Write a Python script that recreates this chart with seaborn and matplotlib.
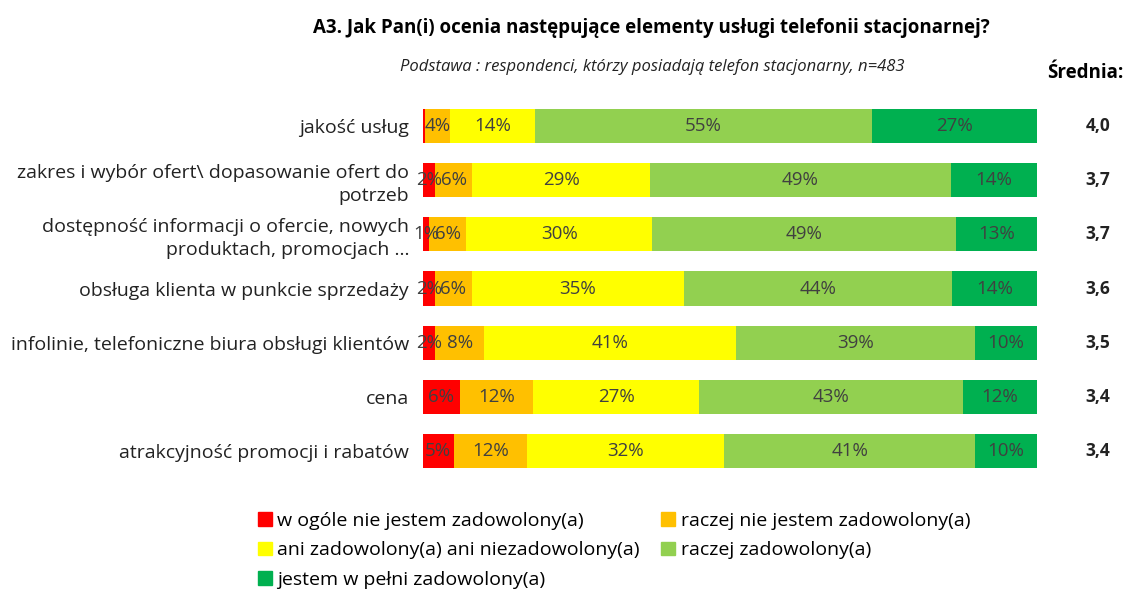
import matplotlib
matplotlib.use("Agg")
import matplotlib.pyplot as plt
import matplotlib.patches as mpatches
import seaborn as sns
import pandas as pd
import numpy as np

# dane z wykresu
kategorie = [
    "jakość usług",
    "zakres i wybór ofert\\ dopasowanie ofert do\npotrzeb",
    "dostępność informacji o ofercie, nowych\nproduktach, promocjach ...",
    "obsługa klienta w punkcie sprzedaży",
    "infolinie, telefoniczne biura obsługi klientów",
    "cena",
    "atrakcyjność promocji i rabatów",
]
odpowiedzi = [
    "w ogóle nie jestem zadowolony(a)",
    "raczej nie jestem zadowolony(a)",
    "ani zadowolony(a) ani niezadowolony(a)",
    "raczej zadowolony(a)",
    "jestem w pełni zadowolony(a)",
]
w_ogole_nie = [0.4, 2, 1, 2, 2, 6, 5]
raczej_nie = [4, 6, 6, 6, 8, 12, 12]
ani_ani = [14, 29, 30, 35, 41, 27, 32]
raczej_tak = [55, 49, 49, 44, 39, 43, 41]
w_pelni = [27, 14, 13, 14, 10, 12, 10]
srednia = ["4,0", "3,7", "3,7", "3,6", "3,5", "3,4", "3,4"]

kolory = ["#FF0000", "#FFC000", "#FFFF00", "#92D050", "#00B050"]

serie = np.array([w_ogole_nie, raczej_nie, ani_ani, raczej_tak, w_pelni], dtype=float)
proc = serie / serie.sum(axis=0) * 100  # wykres 100% skumulowany
skum = proc.cumsum(axis=0)

df = pd.DataFrame({"kategoria": kategorie})
for i in range(5):
    df[f"s{i}"] = skum[i]

plt.rcParams["font.family"] = ["Open Sans", "DejaVu Sans"]
fig = plt.figure(figsize=(11.27, 5.9), dpi=100)
ax = fig.add_axes([0.3753, 0.19, 0.5447, 0.642])

# od najdluzszego do najkrotszego, zeby nakladaly sie jak stos
for i in range(4, -1, -1):
    sns.barplot(data=df, x=f"s{i}", y="kategoria", orient="y", color=kolory[i],
                width=0.63, saturation=1, ax=ax, edgecolor="none", linewidth=0)

for r in range(len(kategorie)):
    for i in range(5):
        v = serie[i, r]
        if v < 1:
            continue
        srodek = skum[i, r] - proc[i, r] / 2
        ax.text(srodek, r, f"{v:.0f}%", ha="center", va="center",
                fontsize=13.5, color="#404040")
    ax.text(1.1, r, srednia[r], transform=ax.get_yaxis_transform(),
            ha="center", va="center", fontsize=12.5, fontweight="bold", color="#222222")

ax.set_xlim(0, 100)
ax.set_ylim(6.5, -0.5)
ax.set_xlabel("")
ax.set_ylabel("")
ax.set_xticks([])
ax.tick_params(axis="y", length=0, labelsize=14, pad=10, colors="#222222")
for lab in ax.get_yticklabels():
    lab.set_multialignment("right")
    lab.set_linespacing(1.35)
for s in ax.spines.values():
    s.set_visible(False)

fig.text(0.578, 0.952, "A3. Jak Pan(i) ocenia następujące elementy usługi telefonii stacjonarnej?",
         ha="center", va="center", fontsize=13.5, fontweight="bold")
fig.text(0.5786, 0.886, "Podstawa : respondenci, którzy posiadają telefon stacjonarny, n=483",
         ha="center", va="center", fontsize=12, style="italic", color="#222222")
fig.text(0.963, 0.876, "Średnia:", ha="center", va="center", fontsize=13.5, fontweight="bold")

uchwyty = [mpatches.Patch(color=k, label=o) for k, o in zip(kolory, odpowiedzi)]
kolejnosc = [0, 2, 4, 1, 3]
fig.legend([uchwyty[i] for i in kolejnosc], [odpowiedzi[i] for i in kolejnosc],
           ncol=2, loc="upper left", bbox_to_anchor=(0.222, 0.146), frameon=False,
           fontsize=14, handlelength=0.7, handleheight=0.7, handletextpad=0.3,
           columnspacing=1.1, labelspacing=0.6, borderaxespad=0)

fig.savefig("out.png", dpi=100, facecolor="white")
